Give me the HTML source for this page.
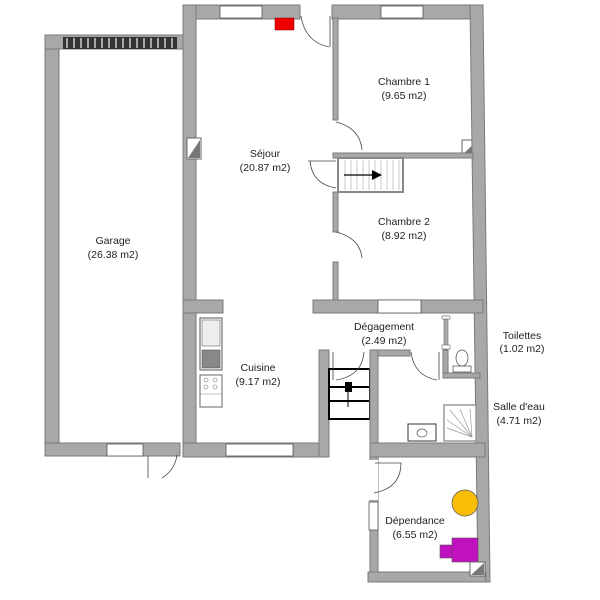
<!DOCTYPE html>
<html><head><meta charset="utf-8"><style>
body{margin:0;background:#fff}
svg{display:block}
text{font-family:"Liberation Sans",sans-serif;font-size:10.5px;fill:#222;text-anchor:middle}
.w{fill:#a8a8a8;stroke:#7a7a7a;stroke-width:1}
.win{fill:#fff;stroke:#555;stroke-width:0.8}
.d{fill:none;stroke:#444;stroke-width:0.8}
</style></head><body>
<svg width="600" height="600" viewBox="0 0 600 600">
<!-- Garage -->
<rect class="w" x="45" y="35" width="14" height="421"/>
<rect class="w" x="45" y="35" width="145" height="14"/>
<rect class="w" x="45" y="443" width="135" height="13"/>
<rect x="63" y="37" width="114" height="12" fill="#333"/>
<g stroke="#ccc" stroke-width="1.5">
<line x1="67" y1="38" x2="67" y2="48"/><line x1="74" y1="38" x2="74" y2="48"/><line x1="81" y1="38" x2="81" y2="48"/><line x1="88" y1="38" x2="88" y2="48"/><line x1="95" y1="38" x2="95" y2="48"/><line x1="102" y1="38" x2="102" y2="48"/><line x1="109" y1="38" x2="109" y2="48"/><line x1="116" y1="38" x2="116" y2="48"/><line x1="123" y1="38" x2="123" y2="48"/><line x1="130" y1="38" x2="130" y2="48"/><line x1="137" y1="38" x2="137" y2="48"/><line x1="144" y1="38" x2="144" y2="48"/><line x1="151" y1="38" x2="151" y2="48"/><line x1="158" y1="38" x2="158" y2="48"/><line x1="165" y1="38" x2="165" y2="48"/><line x1="172" y1="38" x2="172" y2="48"/>
</g>
<rect class="win" x="107" y="444" width="36" height="12"/>
<path class="d" d="M148 456 V478 M177 455 Q175 470 162 478"/>
<!-- Séjour outer -->
<rect class="w" x="183" y="5" width="117" height="14"/>
<rect class="w" x="332" y="5" width="151" height="14"/>
<rect class="w" x="183" y="5" width="13" height="452"/>
<rect class="win" x="220" y="6" width="42" height="12"/>
<rect class="win" x="381" y="6" width="42" height="12"/>
<rect x="275" y="18" width="19" height="12" fill="#e00" stroke="#800" stroke-width="0.5"/>
<path class="d" d="M301 16 Q305 42 329 47 M330 16 V47"/>
<!-- electrical boxes -->
<rect x="187" y="138" width="14" height="21" fill="#fff" stroke="#666"/>
<polygon points="188,158 200,140 200,158" fill="#777"/>
<rect x="462" y="140" width="16" height="15" fill="#fff" stroke="#666"/>
<polygon points="463,154 477,141 477,154" fill="#777"/>
<!-- right outer wall -->
<polygon class="w" points="470,5 483,5 490,582 478,582"/>
<!-- thin wall séjour/chambres -->
<rect class="w" x="333" y="18" width="5" height="102"/>
<rect class="w" x="333" y="192" width="5" height="40"/>
<rect class="w" x="333" y="262" width="5" height="40"/>
<rect class="w" x="333" y="153" width="140" height="5"/>
<path class="d" d="M336 122 Q360 128 362 150 M336 232 Q360 238 362 258 M308 161 H336 M310 161 Q312 184 336 188"/>
<!-- stair -->
<rect x="338" y="158" width="65" height="34" fill="#fff" stroke="#888" stroke-width="2"/>
<g stroke="#bbb" stroke-width="0.8">
<line x1="345" y1="160" x2="345" y2="190"/><line x1="351" y1="160" x2="351" y2="190"/><line x1="357" y1="160" x2="357" y2="190"/><line x1="363" y1="160" x2="363" y2="190"/><line x1="369" y1="160" x2="369" y2="190"/><line x1="375" y1="160" x2="375" y2="190"/><line x1="381" y1="160" x2="381" y2="190"/><line x1="387" y1="160" x2="387" y2="190"/><line x1="393" y1="160" x2="393" y2="190"/><line x1="399" y1="160" x2="399" y2="190"/>
</g>
<line x1="344" y1="175" x2="372" y2="175" stroke="#000" stroke-width="1.3"/>
<polygon points="372,170 382,175 372,180" fill="#000"/>
<!-- chambre2 bottom wall -->
<rect class="w" x="313" y="300" width="170" height="13"/>
<rect class="win" x="378" y="300" width="43" height="13"/>
<rect class="w" x="183" y="300" width="40" height="13"/>
<!-- kitchen -->
<rect x="200" y="318" width="22" height="52" fill="#fff" stroke="#555"/>
<rect x="202" y="320" width="18" height="26" fill="#eee" stroke="#666" stroke-width="0.6"/>
<rect x="202" y="350" width="18" height="18" fill="#888" stroke="#555" stroke-width="0.6"/>
<rect x="200" y="375" width="22" height="32" fill="#fff" stroke="#666"/>
<g fill="none" stroke="#777" stroke-width="0.6"><circle cx="206" cy="380" r="2"/><circle cx="215" cy="380" r="2"/><circle cx="206" cy="387" r="2"/><circle cx="215" cy="387" r="2"/></g>
<line x1="200" y1="394" x2="222" y2="394" stroke="#888" stroke-width="0.6"/>
<!-- cuisine walls -->
<rect class="w" x="183" y="443" width="146" height="14"/>
<rect class="win" x="226" y="444" width="67" height="12"/>
<rect class="w" x="319" y="350" width="10" height="107"/>
<!-- black stairs -->
<g stroke="#000" stroke-width="2" fill="none">
<rect x="329" y="369" width="41" height="50"/>
<line x1="329" y1="387" x2="370" y2="387"/><line x1="329" y1="401" x2="370" y2="401"/>
</g>
<rect x="345" y="382" width="7" height="10" fill="#000"/>
<line x1="348" y1="392" x2="348" y2="407" stroke="#000" stroke-width="1"/>
<path class="d" d="M333 352 V380 M364 352 Q362 376 336 380"/>
<!-- salle d'eau -->
<rect class="w" x="370" y="350" width="8" height="232"/>
<rect class="w" x="378" y="350" width="32" height="6"/>
<path class="d" d="M411 352 Q414 376 437 380 M439 352 V380"/>
<rect class="w" x="443" y="350" width="5" height="27"/>
<rect class="w" x="443" y="373" width="37" height="5"/>
<rect x="444" y="316" width="4" height="34" fill="#aaa" stroke="#666" stroke-width="0.6"/>
<rect x="442" y="316" width="8" height="3" fill="#fff" stroke="#666" stroke-width="0.6"/>
<rect x="442" y="345" width="8" height="4" fill="#fff" stroke="#666" stroke-width="0.6"/>
<ellipse cx="462" cy="358" rx="6" ry="8" fill="#fff" stroke="#444" stroke-width="0.7"/>
<rect x="453" y="366" width="18" height="6" fill="#fff" stroke="#444" stroke-width="0.7"/>
<rect x="444" y="405" width="32" height="36" fill="#fff" stroke="#999" stroke-width="1.5"/>
<g stroke="#999" stroke-width="0.7"><line x1="472" y1="437" x2="450" y2="410"/><line x1="472" y1="437" x2="460" y2="409"/><line x1="472" y1="437" x2="447" y2="420"/><line x1="472" y1="437" x2="447" y2="428"/><line x1="472" y1="437" x2="470" y2="409"/></g>
<rect x="408" y="424" width="28" height="17" fill="#fff" stroke="#333"/>
<ellipse cx="422" cy="433" rx="5" ry="4" fill="none" stroke="#555" stroke-width="0.7"/>
<rect class="w" x="370" y="443" width="115" height="14"/>
<!-- dépendance -->
<rect class="w" x="368" y="572" width="118" height="10"/>
<rect class="win" x="369" y="502" width="9" height="28"/>
<rect x="368" y="460" width="10" height="40" fill="#fff"/>
<path class="d" d="M375 463 H401 Q401 488 374 493"/>
<circle cx="465" cy="503" r="13" fill="#fbbd08" stroke="#555" stroke-width="0.7"/>
<rect x="440" y="545" width="14" height="13" fill="#c010c0" stroke="#555" stroke-width="0.6"/>
<rect x="452" y="538" width="26" height="24" fill="#c010c0" stroke="#555" stroke-width="0.6"/>
<rect x="470" y="562" width="15" height="14" fill="#fff" stroke="#666"/>
<polygon points="471,575 484,563 484,575" fill="#777"/>
<!-- labels -->
<text x="113" y="244">Garage</text><text x="113" y="258">(26.38 m2)</text>
<text x="265" y="157">Séjour</text><text x="265" y="171">(20.87 m2)</text>
<text x="404" y="85">Chambre 1</text><text x="404" y="99">(9.65 m2)</text>
<text x="404" y="225">Chambre 2</text><text x="404" y="239">(8.92 m2)</text>
<text x="384" y="330">Dégagement</text><text x="384" y="344">(2.49 m2)</text>
<text x="258" y="371">Cuisine</text><text x="258" y="385">(9.17 m2)</text>
<text x="522" y="339">Toilettes</text><text x="522" y="352">(1.02 m2)</text>
<text x="519" y="410">Salle d'eau</text><text x="519" y="424">(4.71 m2)</text>
<text x="415" y="524">Dépendance</text><text x="415" y="538">(6.55 m2)</text>
</svg>
</body></html>
